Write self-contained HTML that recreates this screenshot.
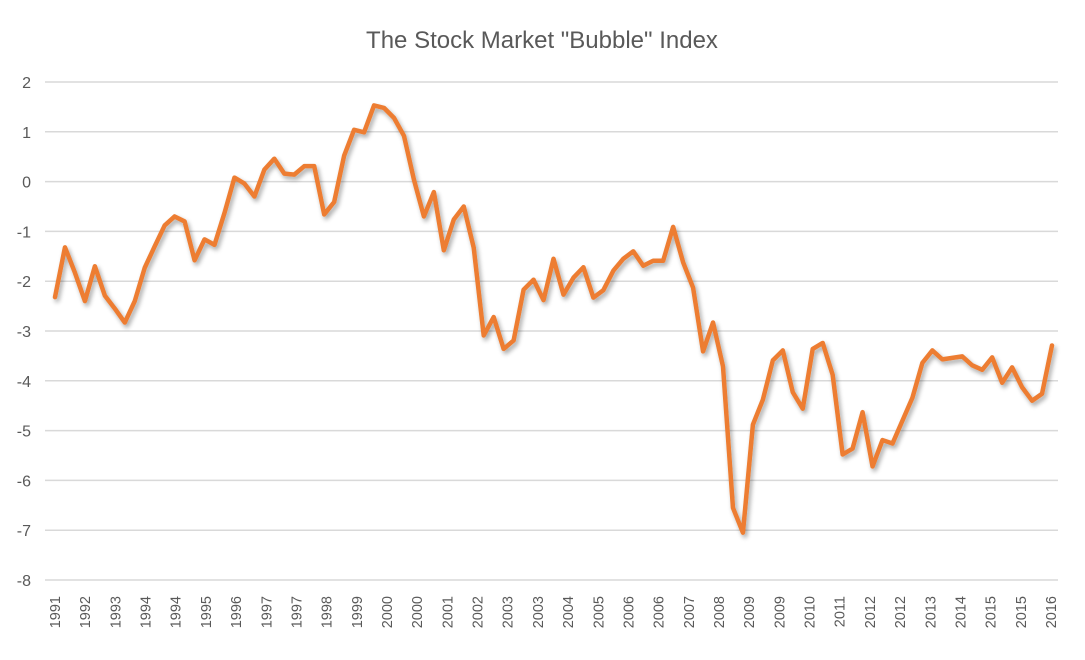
<!DOCTYPE html>
<html><head><meta charset="utf-8"><style>
body{margin:0;background:#fff;width:1085px;height:655px;overflow:hidden}
svg text{font-family:"Liberation Sans",Calibri,sans-serif;fill:#595959}
</style></head><body>
<svg id="chart" width="1085" height="655" xmlns="http://www.w3.org/2000/svg">
<defs><filter id="sh" x="-5%" y="-5%" width="110%" height="110%"><feGaussianBlur in="SourceAlpha" stdDeviation="2.5"/><feOffset dx="2" dy="3"/><feComponentTransfer><feFuncA type="linear" slope="0.35"/></feComponentTransfer><feMerge><feMergeNode/><feMergeNode in="SourceGraphic"/></feMerge></filter></defs>
<text x="542" y="48" text-anchor="middle" font-size="24">The Stock Market "Bubble" Index</text>
<g id="grid"></g><g id="ylab"></g><g id="xlab"></g><g id="series"></g>
</svg>
<script>
const yTicks=[2,1,0,-1,-2,-3,-4,-5,-6,-7,-8];
const xLabels=["1991","1992","1993","1994","1994","1995","1996","1997","1997","1998","1999","2000","2000","2001","2002","2003","2003","2004","2005","2006","2006","2007","2008","2009","2009","2010","2011","2012","2012","2013","2014","2015","2015","2016"];
const values=[-2.32,-1.32,-1.83,-2.40,-1.70,-2.29,-2.55,-2.83,-2.40,-1.73,-1.30,-0.88,-0.70,-0.80,-1.58,-1.16,-1.27,-0.63,0.08,-0.04,-0.30,0.24,0.46,0.16,0.14,0.31,0.31,-0.66,-0.41,0.52,1.04,0.99,1.53,1.48,1.28,0.92,0.04,-0.70,-0.21,-1.38,-0.76,-0.50,-1.33,-3.09,-2.72,-3.36,-3.19,-2.17,-1.97,-2.38,-1.55,-2.27,-1.93,-1.72,-2.33,-2.18,-1.79,-1.55,-1.40,-1.69,-1.59,-1.59,-0.91,-1.62,-2.13,-3.41,-2.83,-3.71,-6.55,-7.05,-4.88,-4.38,-3.59,-3.39,-4.23,-4.56,-3.36,-3.24,-3.88,-5.48,-5.36,-4.63,-5.72,-5.19,-5.26,-4.80,-4.34,-3.64,-3.39,-3.57,-3.54,-3.51,-3.69,-3.78,-3.53,-4.04,-3.73,-4.13,-4.40,-4.26,-3.29];
const NS="http://www.w3.org/2000/svg";
const yMax=2,yMin=-8,plotTop=82,plotBot=580;
function yS(v){return plotTop+(yMax-v)/(yMax-yMin)*(plotBot-plotTop);}
const x0=55,x1=1052;
function xS(i){return x0+i*(x1-x0)/(values.length-1);}
function lx(i){return x0+i*(1051-x0)/(xLabels.length-1);}
function mk(t,a){const e=document.createElementNS(NS,t);for(const k in a)e.setAttribute(k,a[k]);return e;}
const g=document.getElementById('grid'),yl=document.getElementById('ylab'),xl=document.getElementById('xlab'),s=document.getElementById('series');
yTicks.forEach(v=>{
 const l=mk('line',{x1:45,x2:1058,y1:yS(v),y2:yS(v),stroke:'#d9d9d9','stroke-width':1.5});
 
 
 g.appendChild(l);
 const t=mk('text',{x:31,y:yS(v)+6,'text-anchor':'end','font-size':16});
 
 
 t.textContent=v;yl.appendChild(t);
});
xLabels.forEach((lab,i)=>{
 const x=lx(i);
 const t=mk('text',{x:0,y:0,'text-anchor':'end','font-size':14.5,transform:`translate(${x+5},596) rotate(-90)`});
 
 
 t.textContent=lab;xl.appendChild(t);
});
const p=mk('polyline',{points:values.map((v,i)=>xS(i)+','+yS(v)).join(' '),fill:'none',stroke:'#ED7D31','stroke-width':4.5,'stroke-linejoin':'round','stroke-linecap':'round',filter:'url(#sh)'});


s.appendChild(p);
</script>
</body></html>
